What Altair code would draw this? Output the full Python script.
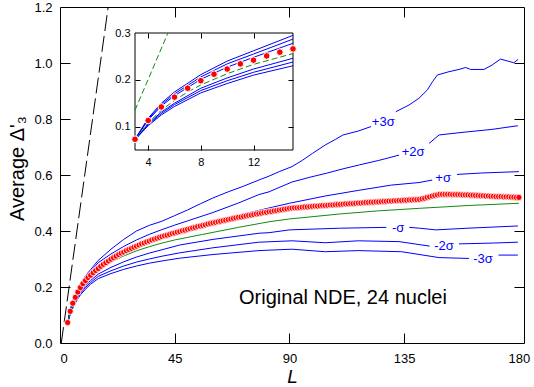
import altair as alt
import pandas as pd

FONT = "Arial"
BLUE = "#0000ff"
GREEN = "#138a13"
RED = "#ff0000"
W, H = 464, 336

# ---------------- data ----------------
# Average Delta_3 of the data, L = 3 .. 180
D3_DATA = [
    0.073, 0.113, 0.142, 0.163, 0.182, 0.198, 0.212, 0.223, 0.234, 0.242, 0.251, 0.259, 0.266,
    0.274, 0.281, 0.287, 0.293, 0.299, 0.305, 0.310, 0.316, 0.321, 0.325, 0.330, 0.334, 0.338,
    0.342, 0.346, 0.350, 0.354, 0.357, 0.361, 0.364, 0.368, 0.371, 0.374, 0.377, 0.380, 0.383,
    0.385, 0.388, 0.391, 0.393, 0.396, 0.398,
    0.401, 0.403, 0.406, 0.408, 0.411, 0.413, 0.416, 0.418, 0.420, 0.422, 0.425, 0.427, 0.429,
    0.431, 0.433, 0.435, 0.437, 0.439, 0.441, 0.443, 0.445, 0.447, 0.449, 0.450, 0.452, 0.454,
    0.456, 0.457, 0.459, 0.461, 0.462, 0.464, 0.466, 0.467, 0.469, 0.470, 0.472, 0.473, 0.475,
    0.476, 0.478, 0.479, 0.481,
    0.482, 0.483, 0.483, 0.484, 0.485, 0.486, 0.486, 0.487, 0.488, 0.489, 0.489, 0.490, 0.491,
    0.491, 0.492, 0.493, 0.493, 0.494, 0.495, 0.495, 0.496, 0.497, 0.497, 0.498, 0.498, 0.499,
    0.500, 0.500, 0.501, 0.502, 0.502, 0.503, 0.503, 0.504, 0.504, 0.505, 0.506, 0.506, 0.507,
    0.507, 0.508, 0.508, 0.509, 0.509, 0.510, 0.510, 0.511, 0.511, 0.512, 0.512, 0.513,
    0.515, 0.517, 0.520, 0.522, 0.525, 0.527, 0.529, 0.531,
    0.531, 0.531, 0.531, 0.531, 0.530, 0.530, 0.530, 0.530, 0.529, 0.529, 0.529, 0.528, 0.528,
    0.527, 0.527, 0.526, 0.526, 0.525, 0.525, 0.524, 0.524, 0.523, 0.523, 0.523, 0.522, 0.522,
    0.522, 0.521, 0.521, 0.520, 0.520,
]
L_DATA = list(range(3, 3 + len(D3_DATA)))

# GOE expectation (green)
GOE_L = [3, 4, 5, 6, 7, 8, 10, 12, 15, 20, 25, 30, 35, 40, 45, 56, 70, 82, 90, 110, 125, 141, 160, 180]
GOE_V = [0.072, 0.108, 0.135, 0.156, 0.174, 0.189, 0.213, 0.233, 0.256, 0.289, 0.311, 0.329,
         0.344, 0.357, 0.368, 0.388, 0.413, 0.433, 0.443, 0.461, 0.472, 0.481, 0.491, 0.499]

# Poisson line (black dashed, main) and steep green dashed line (inset)
POISSON_L = [0.5, 18.9]
POISSON_V = [0.0, 1.2]
STEEP_L = [3.0, 5.5]
STEEP_V = [0.135, 0.300]

# sigma bands (blue), split where the labels sit
P3_A_L = [3, 4, 5, 6, 8, 10, 12, 15, 20, 25, 30, 35, 40, 45, 50, 55, 60, 66, 72, 78, 82, 86, 91, 95,
          99, 104, 108, 111, 117, 122]
P3_A_V = [0.073, 0.118, 0.150, 0.174, 0.211, 0.240, 0.262, 0.295, 0.335, 0.370, 0.400, 0.420,
          0.435, 0.455, 0.475, 0.497, 0.518, 0.540, 0.560, 0.582, 0.596, 0.612, 0.630, 0.652,
          0.677, 0.707, 0.727, 0.743, 0.757, 0.773]
P3_B_L = [131.7, 136.9, 140.8, 144.1, 146.1, 148, 152.6, 156.5, 159.1, 161.1, 166.3, 169.5,
          172.8, 178, 179.7]
P3_B_V = [0.826, 0.850, 0.874, 0.904, 0.933, 0.957, 0.969, 0.977, 0.984, 0.977, 0.977, 0.993,
          1.014, 1.001, 1.013]

P2_A_L = [3, 4, 5, 6, 8, 10, 12, 15, 20, 25, 30, 35, 40, 45, 50, 60, 70, 78, 82, 91, 98, 104.4,
          111, 117.4, 125, 133]
P2_A_V = [0.073, 0.116, 0.147, 0.170, 0.206, 0.234, 0.255, 0.287, 0.318, 0.345, 0.368, 0.388,
          0.405, 0.421, 0.436, 0.466, 0.500, 0.530, 0.540, 0.575, 0.592, 0.606, 0.622, 0.636,
          0.652, 0.671]
P2_B_L = [144.8, 148.7, 156.5, 169.5, 179.6]
P2_B_V = [0.713, 0.743, 0.751, 0.763, 0.776]

P1_A_L = [3, 4, 5, 6, 8, 10, 12, 15, 20, 25, 30, 35, 40, 45, 50, 60, 73, 80, 90, 104, 117, 130,
          140.8, 146]
P1_A_V = [0.073, 0.114, 0.144, 0.166, 0.201, 0.227, 0.248, 0.278, 0.303, 0.325, 0.345, 0.362,
          0.378, 0.392, 0.405, 0.432, 0.463, 0.478, 0.499, 0.525, 0.545, 0.564, 0.573, 0.582]
P1_B_L = [155.7, 165, 180]
P1_B_V = [0.602, 0.607, 0.612]

M1_A_L = [3, 4, 5, 6, 8, 10, 12, 15, 20, 25, 30, 35, 40, 47, 60, 78, 82, 90, 110, 128]
M1_A_V = [0.072, 0.106, 0.131, 0.150, 0.182, 0.204, 0.223, 0.246, 0.270, 0.290, 0.307, 0.321,
          0.333, 0.350, 0.370, 0.392, 0.394, 0.404, 0.410, 0.413]
M1_B_L = [137, 141, 147.4, 160, 179.6]
M1_B_V = [0.413, 0.410, 0.404, 0.410, 0.418]

M2_A_L = [3, 4, 5, 6, 8, 10, 12, 15, 20, 25, 30, 35, 40, 47, 60, 78, 91, 104, 117, 133, 145]
M2_A_V = [0.072, 0.104, 0.128, 0.147, 0.177, 0.198, 0.216, 0.238, 0.258, 0.275, 0.289, 0.300,
          0.310, 0.322, 0.340, 0.360, 0.365, 0.358, 0.365, 0.362, 0.346]
M2_B_L = [156.5, 170, 179.6]
M2_B_V = [0.354, 0.357, 0.360]

M3_A_L = [3, 4, 5, 6, 8, 10, 12, 15, 20, 25, 30, 35, 40, 47, 60, 78, 91, 104, 117, 134, 148.7,
          160.4]
M3_A_V = [0.072, 0.102, 0.125, 0.143, 0.172, 0.192, 0.210, 0.230, 0.248, 0.263, 0.275, 0.285,
          0.293, 0.303, 0.316, 0.330, 0.335, 0.326, 0.330, 0.326, 0.305, 0.302]
M3_B_L = [172, 179.6]
M3_B_V = [0.314, 0.314]

SIGMA_TEXT = ["+3σ", "+2σ", "+σ", "-σ", "-2σ", "-3σ"]
SIGMA_L = [126.8, 138.5, 150.3, 132.6, 150.6, 165.9]
SIGMA_V = [0.789, 0.683, 0.589, 0.411, 0.346, 0.300]

CAPTION = ["Original NDE, 24 nuclei"]
CAPTION_L = [111]
CAPTION_V = [0.161]

X_TICKS = [0, 45, 90, 135, 180]
X_INNER = [45, 90, 135]
Y_TICKS = [0.0, 0.2, 0.4, 0.6, 0.8, 1.0, 1.2]
Y_INNER = [0.2, 0.4, 0.6, 0.8, 1.0]
IX_TICKS = [4, 8, 12]
IY_TICKS = [0.1, 0.2, 0.3]
IY_INNER = [0.1, 0.2]

# ---------------- tables ----------------
data_df = pd.DataFrame({"L": L_DATA, "v": D3_DATA})
goe_df = pd.DataFrame({"L": GOE_L, "v": GOE_V})
poisson_df = pd.DataFrame({"L": POISSON_L, "v": POISSON_V})
steep_df = pd.DataFrame({"L": STEEP_L, "v": STEEP_V})
segs = [("p3a", P3_A_L, P3_A_V), ("p3b", P3_B_L, P3_B_V), ("p2a", P2_A_L, P2_A_V),
        ("p2b", P2_B_L, P2_B_V), ("p1a", P1_A_L, P1_A_V), ("p1b", P1_B_L, P1_B_V),
        ("m1a", M1_A_L, M1_A_V), ("m1b", M1_B_L, M1_B_V), ("m2a", M2_A_L, M2_A_V),
        ("m2b", M2_B_L, M2_B_V), ("m3a", M3_A_L, M3_A_V), ("m3b", M3_B_L, M3_B_V)]
blue_df = pd.concat([pd.DataFrame({"L": l, "v": v, "seg": s}) for s, l, v in segs],
                    ignore_index=True)
sig_df = pd.DataFrame({"L": SIGMA_L, "v": SIGMA_V, "t": SIGMA_TEXT})
cap_df = pd.DataFrame({"L": CAPTION_L, "v": CAPTION_V, "t": CAPTION})
main_carrier_df = pd.DataFrame({"L": [90], "v": [0.6]})
inset_carrier_df = pd.DataFrame({"L": [9], "v": [0.2]})
frame_df = pd.DataFrame({"L": [3], "L2": [15], "v": [0.05], "v2": [0.3]})

XS = alt.Scale(domain=[0, 182], nice=False, zero=False)
YS = alt.Scale(domain=[0, 1.2], nice=False, zero=False)
IXS = alt.Scale(domain=[3, 15], range=[75, 233], nice=False, zero=False)
IYS = alt.Scale(domain=[0.05, 0.3], range=[143, 26], nice=False, zero=False)


def enc(xs, ys, **kw):
    return dict(x=alt.X("L:Q", scale=xs, axis=None), y=alt.Y("v:Q", scale=ys, axis=None), **kw)


def tick_axis(orient, offset, values, size):
    return alt.Axis(orient=orient, offset=offset, values=values, labels=False, domain=False,
                    ticks=True, tickSize=size, tickColor="black", tickWidth=1, grid=False,
                    title=None, zindex=1)


def carrier(df, xs, ys, xaxis, yaxis):
    return alt.Chart(df).mark_point(opacity=0).encode(
        x=alt.X("L:Q", scale=xs, axis=xaxis), y=alt.Y("v:Q", scale=ys, axis=yaxis))


# ---------------- main panel ----------------
poisson = alt.Chart(poisson_df).mark_line(color="black", strokeWidth=1, strokeDash=[16, 5]).encode(
    **enc(XS, YS))
blue = alt.Chart(blue_df).mark_line(color=BLUE, strokeWidth=1).encode(
    **enc(XS, YS, detail="seg:N"))
green = alt.Chart(goe_df).mark_line(color=GREEN, strokeWidth=1).encode(**enc(XS, YS))
red = alt.Chart(data_df).mark_circle(color=RED, size=38, opacity=1, stroke="white",
                                      strokeWidth=0.8).encode(**enc(XS, YS))
sig_text = alt.Chart(sig_df).mark_text(color=BLUE, font=FONT, fontSize=13, align="center",
                                       baseline="middle").encode(**enc(XS, YS, text="t:N"))
cap_text = alt.Chart(cap_df).mark_text(color="black", font=FONT, fontSize=20, align="center",
                                       baseline="middle").encode(**enc(XS, YS, text="t:N"))

x_lab = alt.Axis(orient="bottom", values=X_TICKS, ticks=False, domain=False, grid=False,
                 labelPadding=9, labelFontSize=13, labelFont=FONT, labelColor="black",
                 title="L", titleFont=FONT, titleFontSize=19, titleFontStyle="italic",
                 titleFontWeight="normal", titleColor="black", titleX=232, titleY=33,
                 titleBaseline="middle", titleAlign="center")
y_lab = alt.Axis(orient="left", values=Y_TICKS, format=".1f", ticks=False, domain=False,
                 grid=False, labelPadding=8, labelFontSize=13, labelFont=FONT,
                 labelColor="black", title="Average Δ'₃", titleFont=FONT, titleFontSize=20,
                 titleFontWeight="normal", titleColor="black", titleX=-43, titleY=161,
                 titleBaseline="middle", titleAlign="center", titleAngle=270)

main_carriers = [
    carrier(main_carrier_df, XS, YS, x_lab, None),
    carrier(main_carrier_df, XS, YS, tick_axis("top", -H, X_INNER, 10), None),
    carrier(main_carrier_df, XS, YS, tick_axis("bottom", -H, X_INNER, 10), None),
    carrier(main_carrier_df, XS, YS, None, y_lab),
    carrier(main_carrier_df, XS, YS, None, tick_axis("right", -W, Y_INNER, 10)),
    carrier(main_carrier_df, XS, YS, None, tick_axis("left", -W, Y_INNER, 10)),
]

main = alt.layer(poisson, blue, green, red, sig_text, cap_text, *main_carriers).resolve_axis(
    x="independent", y="independent")

# ---------------- inset ----------------
frame = alt.Chart(frame_df).mark_rect(fill="white", stroke="black", strokeWidth=1).encode(
    x=alt.X("L:Q", scale=IXS, axis=None), x2="L2:Q",
    y=alt.Y("v:Q", scale=IYS, axis=None), y2="v2:Q")
i_blue = alt.Chart(blue_df).transform_filter("datum.L <= 15").mark_line(
    color=BLUE, strokeWidth=1).encode(**enc(IXS, IYS, detail="seg:N"))
i_green = alt.Chart(goe_df).transform_filter("datum.L <= 15").mark_line(
    color=GREEN, strokeWidth=1, strokeDash=[6, 3]).encode(**enc(IXS, IYS))
i_steep = alt.Chart(steep_df).mark_line(color=GREEN, strokeWidth=1, strokeDash=[6, 3]).encode(
    **enc(IXS, IYS))
i_red = alt.Chart(data_df).transform_filter("datum.L <= 15").mark_circle(
    color=RED, size=44, opacity=1, stroke="white", strokeWidth=1).encode(**enc(IXS, IYS))

ix_lab = alt.Axis(orient="bottom", offset=143 - H, values=IX_TICKS, ticks=False, domain=False,
                  grid=False, labelPadding=6, labelFontSize=11, labelFont=FONT,
                  labelColor="black", title=None, zindex=1)
iy_lab = alt.Axis(orient="left", offset=-75, values=IY_TICKS, format=".1f", ticks=False,
                  domain=False, grid=False, labelPadding=5, labelFontSize=11, labelFont=FONT,
                  labelColor="black", title=None, zindex=1)

inset_carriers = [
    carrier(inset_carrier_df, IXS, IYS, ix_lab, None),
    carrier(inset_carrier_df, IXS, IYS, tick_axis("top", -143, IX_TICKS, 5), None),
    carrier(inset_carrier_df, IXS, IYS, tick_axis("bottom", 26 - H, IX_TICKS, 5), None),
    carrier(inset_carrier_df, IXS, IYS, None, iy_lab),
    carrier(inset_carrier_df, IXS, IYS, None, tick_axis("right", 75 - W, IY_INNER, 5)),
    carrier(inset_carrier_df, IXS, IYS, None, tick_axis("left", -233, IY_INNER, 5)),
]

inset = alt.layer(frame, i_blue, i_green, i_steep, i_red, *inset_carriers).resolve_axis(
    x="independent", y="independent")

chart = alt.layer(main, inset).resolve_scale(x="independent", y="independent").properties(
    width=W, height=H,
    autosize=alt.AutoSizeParams(type="none"),
    padding={"left": 60, "top": 7, "right": 10, "bottom": 44},
    background="white",
).configure_view(stroke="black", strokeWidth=1)

chart.save("out.html", embed_options={"renderer": "svg", "actions": False})
